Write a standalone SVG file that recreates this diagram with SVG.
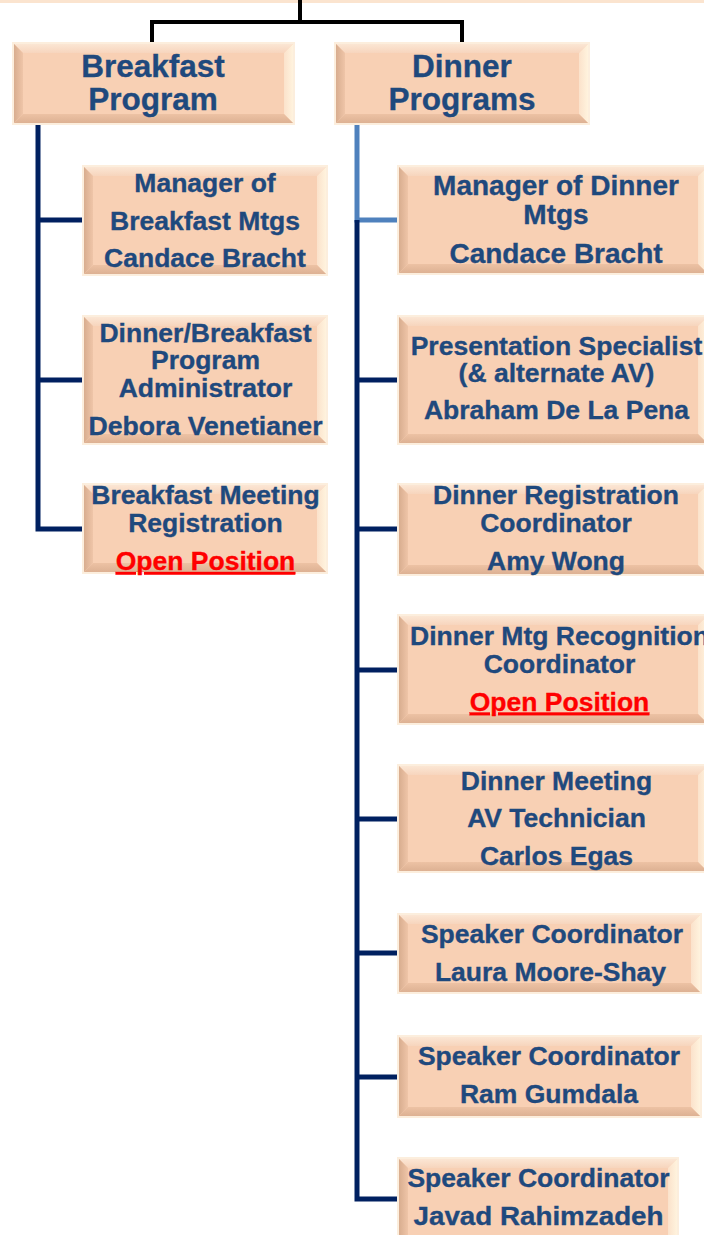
<svg xmlns="http://www.w3.org/2000/svg" width="704" height="1235" viewBox="0 0 704 1235">
<defs>
<linearGradient id="gl" x1="0" y1="0" x2="1" y2="0"><stop offset="0" stop-color="#D8AD8F"/><stop offset="1" stop-color="#EFC5A8"/></linearGradient>
<linearGradient id="gb" x1="0" y1="0" x2="0" y2="1"><stop offset="0" stop-color="#EDC2A4"/><stop offset="1" stop-color="#DDB193"/></linearGradient>
<linearGradient id="gt" x1="0" y1="0" x2="0" y2="1"><stop offset="0" stop-color="#FBE6D4"/><stop offset="1" stop-color="#F7D5BD"/></linearGradient>
<linearGradient id="gr" x1="0" y1="0" x2="1" y2="0"><stop offset="0" stop-color="#FBE2CB"/><stop offset="1" stop-color="#FFF3DE"/></linearGradient>
</defs>
<style>
.o{fill:#FCEEDD}
.c{fill:#F8D0B4}
.t{fill:url(#gt)}
.l{fill:url(#gl)}
.r{fill:url(#gr)}
.b{fill:url(#gb)}
text{font-family:"Liberation Sans",Arial,sans-serif;font-weight:bold;fill:#1F497D;stroke:#1F497D;stroke-width:0.35px;text-anchor:middle}
.h{font-size:31.5px}
.n{font-size:26.5px}
.m{font-size:28px}
.s{font-size:26.5px}
.op{fill:#FF0000;stroke:#FF0000;text-decoration:underline}
.k{fill:none;stroke:#000;stroke-width:4}
.d{fill:none;stroke:#002060;stroke-width:5}
.lb{fill:none;stroke:#4F81BD;stroke-width:5}
</style>
<rect x="0" y="-8" width="704" height="11" fill="#FBE4CF"/>
<g id="connectors">
<path class="k" d="M300,0 V22 M152,42 V22 H462 V42"/>
<path class="d" d="M38,125 V529 H82 M38,220 H82 M38,380 H82"/>
<path class="lb" d="M357,125 V220 H397"/>
<path class="d" d="M357,220 V1199 H397 M357,380 H397 M357,529 H397 M357,670 H397 M357,819 H397 M357,953 H397 M357,1077 H397"/>
</g>
<g id="breakfast-program">
<rect class="o" x="12" y="42" width="283" height="83"/>
<rect class="c" x="14" y="44" width="279" height="79"/>
<polygon class="t" points="14,44 293,44 284,53 23,53"/>
<polygon class="l" points="14,44 23,53 23,114 14,123"/>
<polygon class="r" points="293,44 293,123 284,114 284,53"/>
<polygon class="b" points="14,123 293,123 284,114 23,114"/>
<text class="h" x="153" y="77">Breakfast</text>
<text class="h" x="153" y="110">Program</text>
</g>
<g id="dinner-programs">
<rect class="o" x="334" y="42" width="256" height="83"/>
<rect class="c" x="336" y="44" width="252" height="79"/>
<polygon class="t" points="336,44 588,44 579,53 345,53"/>
<polygon class="l" points="336,44 345,53 345,114 336,123"/>
<polygon class="r" points="588,44 588,123 579,114 579,53"/>
<polygon class="b" points="336,123 588,123 579,114 345,114"/>
<text class="h" x="462" y="77">Dinner</text>
<text class="h" x="462" y="110">Programs</text>
</g>
<g id="manager-breakfast">
<rect class="o" x="82" y="165" width="246" height="111"/>
<rect class="c" x="84" y="167" width="242" height="107"/>
<polygon class="t" points="84,167 326,167 317,176 93,176"/>
<polygon class="l" points="84,167 93,176 93,265 84,274"/>
<polygon class="r" points="326,167 326,274 317,265 317,176"/>
<polygon class="b" points="84,274 326,274 317,265 93,265"/>
<text class="n" x="205" y="192">Manager of</text>
<text class="n" x="205" y="229.5">Breakfast Mtgs</text>
<text class="n" x="205" y="267">Candace Bracht</text>
</g>
<g id="program-administrator">
<rect class="o" x="82" y="315" width="246" height="130"/>
<rect class="c" x="84" y="317" width="242" height="126"/>
<polygon class="t" points="84,317 326,317 317,326 93,326"/>
<polygon class="l" points="84,317 93,326 93,434 84,443"/>
<polygon class="r" points="326,317 326,443 317,434 317,326"/>
<polygon class="b" points="84,443 326,443 317,434 93,434"/>
<text class="n" x="205.5" y="342">Dinner/Breakfast</text>
<text class="n" x="205.5" y="369">Program</text>
<text class="n" x="205.5" y="396.5">Administrator</text>
<text class="n" x="205.5" y="435" textLength="234" lengthAdjust="spacingAndGlyphs">Debora Venetianer</text>
</g>
<g id="breakfast-registration">
<rect class="o" x="82" y="483" width="246" height="91"/>
<rect class="c" x="84" y="485" width="242" height="87"/>
<polygon class="t" points="84,485 326,485 317,494 93,494"/>
<polygon class="l" points="84,485 93,494 93,563 84,572"/>
<polygon class="r" points="326,485 326,572 317,563 317,494"/>
<polygon class="b" points="84,572 326,572 317,563 93,563"/>
<text class="n" x="205.5" y="504">Breakfast Meeting</text>
<text class="n" x="205.5" y="531.5">Registration</text>
<text class="n op" x="205.5" y="570">Open Position</text>
</g>
<g id="manager-dinner">
<rect class="o" x="397" y="165" width="312" height="110"/>
<rect class="c" x="399" y="167" width="308" height="106"/>
<polygon class="t" points="399,167 707,167 698,176 408,176"/>
<polygon class="l" points="399,167 408,176 408,264 399,273"/>
<polygon class="r" points="707,167 707,273 698,264 698,176"/>
<polygon class="b" points="399,273 707,273 698,264 408,264"/>
<text class="m" x="556" y="195">Manager of Dinner</text>
<text class="m" x="556" y="224">Mtgs</text>
<text class="m" x="556" y="263">Candace Bracht</text>
</g>
<g id="presentation-specialist">
<rect class="o" x="397" y="315" width="312" height="130"/>
<rect class="c" x="399" y="317" width="308" height="126"/>
<polygon class="t" points="399,317 707,317 698,326 408,326"/>
<polygon class="l" points="399,317 408,326 408,434 399,443"/>
<polygon class="r" points="707,317 707,443 698,434 698,326"/>
<polygon class="b" points="399,443 707,443 698,434 408,434"/>
<text class="n" x="556.5" y="355">Presentation Specialist</text>
<text class="n" x="556.5" y="381.5">(&amp; alternate AV)</text>
<text class="n" x="556.5" y="419">Abraham De La Pena</text>
</g>
<g id="dinner-registration">
<rect class="o" x="397" y="483" width="312" height="93"/>
<rect class="c" x="399" y="485" width="308" height="89"/>
<polygon class="t" points="399,485 707,485 698,494 408,494"/>
<polygon class="l" points="399,485 408,494 408,565 399,574"/>
<polygon class="r" points="707,485 707,574 698,565 698,494"/>
<polygon class="b" points="399,574 707,574 698,565 408,565"/>
<text class="n" x="556" y="504">Dinner Registration</text>
<text class="n" x="556" y="531.5">Coordinator</text>
<text class="n" x="556" y="570">Amy Wong</text>
</g>
<g id="recognition-coordinator">
<rect class="o" x="397" y="614" width="312" height="111"/>
<rect class="c" x="399" y="616" width="308" height="107"/>
<polygon class="t" points="399,616 707,616 698,625 408,625"/>
<polygon class="l" points="399,616 408,625 408,714 399,723"/>
<polygon class="r" points="707,616 707,723 698,714 698,625"/>
<polygon class="b" points="399,723 707,723 698,714 408,714"/>
<text class="n" x="559.5" y="645">Dinner Mtg Recognition</text>
<text class="n" x="559.5" y="673">Coordinator</text>
<text class="n op" x="559.5" y="710.5">Open Position</text>
</g>
<g id="av-technician">
<rect class="o" x="397" y="764" width="312" height="109"/>
<rect class="c" x="399" y="766" width="308" height="105"/>
<polygon class="t" points="399,766 707,766 698,775 408,775"/>
<polygon class="l" points="399,766 408,775 408,862 399,871"/>
<polygon class="r" points="707,766 707,871 698,862 698,775"/>
<polygon class="b" points="399,871 707,871 698,862 408,862"/>
<text class="n" x="556.5" y="790">Dinner Meeting</text>
<text class="n" x="556.5" y="827">AV Technician</text>
<text class="n" x="556.5" y="865">Carlos Egas</text>
</g>
<g id="speaker-laura">
<rect class="o" x="397" y="913" width="305" height="81"/>
<rect class="c" x="399" y="915" width="301" height="77"/>
<polygon class="t" points="399,915 700,915 691,924 408,924"/>
<polygon class="l" points="399,915 408,924 408,983 399,992"/>
<polygon class="r" points="700,915 700,992 691,983 691,924"/>
<polygon class="b" points="399,992 700,992 691,983 408,983"/>
<text class="s" x="552" y="943">Speaker Coordinator</text>
<text class="s" x="550.5" y="981">Laura Moore-Shay</text>
</g>
<g id="speaker-ram">
<rect class="o" x="397" y="1035" width="305" height="83"/>
<rect class="c" x="399" y="1037" width="301" height="79"/>
<polygon class="t" points="399,1037 700,1037 691,1046 408,1046"/>
<polygon class="l" points="399,1037 408,1046 408,1107 399,1116"/>
<polygon class="r" points="700,1037 700,1116 691,1107 691,1046"/>
<polygon class="b" points="399,1116 700,1116 691,1107 408,1107"/>
<text class="s" x="549" y="1065">Speaker Coordinator</text>
<text class="s" x="549" y="1103">Ram Gumdala</text>
</g>
<g id="speaker-javad">
<rect class="o" x="397" y="1157" width="282" height="90"/>
<rect class="c" x="399" y="1159" width="278" height="86"/>
<polygon class="t" points="399,1159 677,1159 668,1168 408,1168"/>
<polygon class="l" points="399,1159 408,1168 408,1236 399,1245"/>
<polygon class="r" points="677,1159 677,1245 668,1236 668,1168"/>
<text class="s" x="538.5" y="1187">Speaker Coordinator</text>
<text class="s" x="538.5" y="1225" textLength="250" lengthAdjust="spacingAndGlyphs">Javad Rahimzadeh</text>
</g>
</svg>
